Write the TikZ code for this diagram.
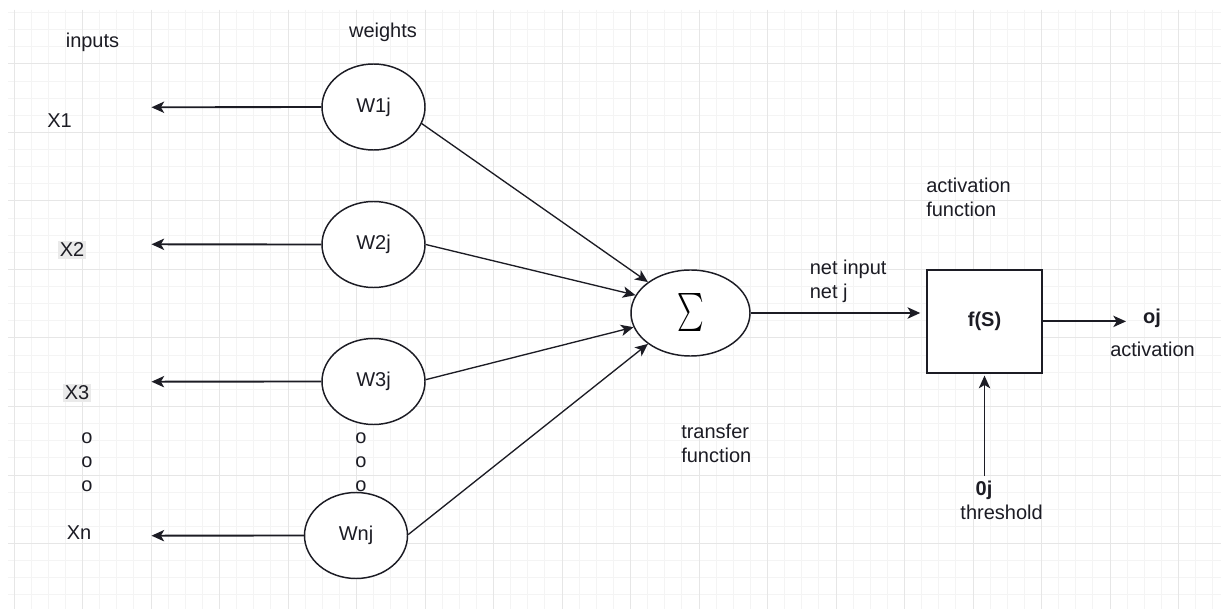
\documentclass[tikz,border=0pt]{standalone}
\usepackage{fontspec}
\setmainfont{Liberation Sans}
\usepackage{graphicx}
\usetikzlibrary{arrows.meta,shapes.geometric}

\definecolor{ink}{RGB}{28,28,36}
\definecolor{gridmajor}{RGB}{230,230,230}
\definecolor{gridminor}{RGB}{244,244,244}
\definecolor{hilite}{RGB}{234,234,234}

\begin{document}
\begin{tikzpicture}[x=0.75pt,y=-0.75pt,
  lbl/.style={font=\fontsize{15}{18}\selectfont, text=ink, inner sep=0pt},
  weightnode/.style={ellipse, draw=ink, line width=1.1pt, fill=white,
    minimum width=77.25pt, minimum height=64.5pt, inner sep=0pt, lbl},
  sumnode/.style={ellipse, draw=ink, line width=1.1pt, fill=white,
    minimum width=89.25pt, minimum height=64.5pt, inner sep=0pt},
  funcbox/.style={rectangle, draw=ink, line width=1.1pt, fill=white,
    minimum width=86.25pt, minimum height=77.25pt, inner sep=0pt, lbl},
  tip/.style={-{Stealth[length=9.5pt,width=8.5pt,inset=2.5pt]}},
  flow/.style={tip, draw=ink, line width=1.4pt},
  feed/.style={tip, draw=ink, line width=1pt},
  gridline/.style={line width=0.75pt}
]
% page and grid paper
\useasboundingbox (0,0) rectangle (1221,609);
\fill[white] (0,0) rectangle (1221,609);
\foreach \k in {0,...,70}
  \draw[gridline, gridminor] ({14+17.125*\k},10) -- ({14+17.125*\k},609);
\foreach \k in {-3,...,31}
  \draw[gridline, gridminor] (8,{64+17.125*\k}) -- (1221,{64+17.125*\k});
\foreach \k in {0,...,17}
  \draw[gridline, gridmajor] ({14+68.5*\k},10) -- ({14+68.5*\k},609);
\foreach \k in {0,...,7}
  \draw[gridline, gridmajor] (8,{64+68.5*\k}) -- (1221,{64+68.5*\k});

% column headings
\node[lbl, anchor=base] (hin) at (92.5,48) {inputs};
\node[lbl, anchor=base] (hw) at (383,38) {weights};

% inputs
\node[lbl, anchor=base] (x1) at (59.5,128) {X1};
\node[lbl, anchor=base, fill=hilite, inner sep=1.2pt] (x2) at (72,257) {X2};
\node[lbl, anchor=base, fill=hilite, inner sep=1.2pt] (x3) at (77,400) {X3};
\node[lbl, anchor=north, align=center] (xdots) at (87,432.5) {o\\o\\o};
\node[lbl, anchor=base] (xn) at (79,539) {Xn};

% weights
\node[weightnode] (w1) at (373.5,107) {W1j};
\node[weightnode] (w2) at (373.5,244.5) {W2j};
\node[weightnode] (w3) at (373.5,381.5) {W3j};
\node[lbl, anchor=north, align=center] (wdots) at (361,432.5) {o\\o\\o};
\node[weightnode] (wn) at (356,535.5) {Wnj};

% free ends of the input arrows
\coordinate (x1end) at (151.5,107.3);
\coordinate (x2end) at (151.5,244.3);
\coordinate (x3end) at (151.5,381.7);
\coordinate (xnend) at (151.5,535.7);

\draw[flow] (w1.west) -- (x1end);
\draw[flow] (w2.west) -- (x2end);
\draw[flow] (w3.west) -- (x3end);
\draw[flow] (wn.west) -- (xnend);

% summation unit
\node[sumnode] (sig) at (690.5,313) {\resizebox*{20pt}{28.5pt}{$\sum$}};

\draw[feed] (w1.-19.5) -- (sig.144.4);
\draw[feed] (w2.0) -- (sig.162);
\draw[feed] (w3.2) -- (sig.-166);
\draw[feed] (wn.1) -- (sig.-144);

\node[lbl, anchor=north west, align=left] (tf) at (681,424) {transfer\\function};

% activation unit
\node[funcbox] (fs) at (984.5,321.4) {\bfseries f(S)};
\node[lbl, anchor=north west, align=left] (af) at (926,177.5) {activation\\function};
\node[lbl, anchor=north west, align=left] (ni) at (809.5,260) {net input\\net j};

\draw[flow] (sig.east) -- ([xshift=-4.5pt]sig.east -| fs.west);

\coordinate (outend) at (1126,321.4);
\draw[flow] (fs.east) -- (outend);
\node[lbl, anchor=base, font=\fontsize{15}{18}\selectfont\bfseries] (oj) at (1152,323.5) {oj};
\node[lbl, anchor=base] (act) at (1152.5,357) {activation};

\coordinate (thstart) at (984.5,476);
\draw[flow] (thstart) -- ([yshift=-1.5pt]fs.south);
\node[lbl, anchor=base, font=\fontsize{15}{18}\selectfont\bfseries] (th0) at (984,495) {0j};
\node[lbl, anchor=base] (thr) at (1001.6,519) {threshold};
\end{tikzpicture}
\end{document}
